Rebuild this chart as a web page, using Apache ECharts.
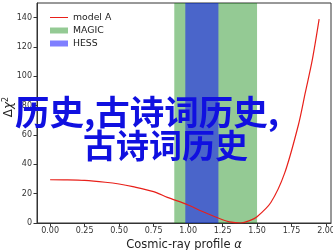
<!DOCTYPE html>
<html><head><meta charset="utf-8">
<script src="https://cdn.jsdelivr.net/npm/echarts@6/dist/echarts.min.js"></script>
<style>html,body{margin:0;padding:0;background:#fff}#c{width:333px;height:250px}</style>
</head><body><div id="c"></div>
<script>
const alphaX = [0, 0.1, 0.25, 0.4, 0.5, 0.6, 0.75, 0.85, 1.0, 1.1, 1.25, 1.3, 1.38, 1.45, 1.5, 1.6, 1.7, 1.8, 1.85, 1.9, 1.95];
const chi2   = [29.5, 29.4, 29.0, 27.8, 26.6, 24.8, 21.4, 17.5, 12.3, 8.0, 2.2, 0.8, 0.0, 1.8, 4.3, 14, 34, 67, 89, 111, 139];
const magicBand = [0.9, 1.5];
const hessBand = [0.98, 1.22];
const xTicks = [0, 0.25, 0.5, 0.75, 1.0, 1.25, 1.5, 1.75, 2.0];
const yTicks = [0, 20, 40, 60, 80, 100, 120, 140];
const overlayLine1 = '历史,古诗词历史,';
const overlayLine2 = '古诗词历史';

const font = 'DejaVu Sans';
const lineIcon = 'path://M0,0L0.01,0L0,0.01Z M0,2.4L18,2.4L18,3.6L0,3.6Z M18,6L17.99,6L18,5.99Z';
const chart = echarts.init(document.getElementById('c'), null, {renderer: 'canvas'});
chart.setOption({
  animation: false,
  grid: {left: 37, right: 2, top: 3, bottom: 27, containLabel: false, outerBoundsMode: 'none',
         show: true, borderColor: '#333', borderWidth: 1, backgroundColor: 'transparent'},
  legend: {
    orient: 'vertical', left: 45, top: 8, itemWidth: 18, itemHeight: 6, itemGap: 4,
    textStyle: {fontFamily: font, fontSize: 9.3, color: '#222'},
    data: [{name: 'model A', icon: lineIcon}, {name: 'MAGIC', icon: 'rect'}, {name: 'HESS', icon: 'rect'}]
  },
  xAxis: {
    type: 'value', min: -0.095, max: 2.036,
    name: 'Cosmic-ray profile {i|α}', nameLocation: 'middle', nameGap: 16, nameMoveOverlap: false,
    nameTextStyle: {fontFamily: font, fontSize: 11.5, color: '#222', rich: {i: {fontFamily: font, fontSize: 11.5, fontStyle: 'italic', color: '#222'}}},
    splitLine: {show: false},
    axisLine: {show: true, onZero: false, lineStyle: {color: '#333'}},
    axisTick: {show: true, length: 3.5, lineStyle: {color: '#333'}, customValues: xTicks},
    axisLabel: {fontFamily: font, fontSize: 8, color: '#333', margin: 4, customValues: xTicks, formatter: v => v.toFixed(2)}
  },
  yAxis: {
    type: 'value', min: 0, max: 150,
    name: 'Δ{i|χ}{s|2}', nameLocation: 'middle', nameGap: 21, nameRotate: 90, nameMoveOverlap: false,
    nameTextStyle: {fontFamily: font, fontSize: 12, color: '#222', padding: [0, 0, 0, 12],
      rich: {i: {fontFamily: font, fontSize: 12, fontStyle: 'italic', color: '#222'},
             s: {fontFamily: font, fontSize: 8, color: '#222', verticalAlign: 'top', padding: [0, 0, 6, 0]}}},
    splitLine: {show: false},
    axisLine: {show: true, onZero: false, lineStyle: {color: '#333'}},
    axisTick: {show: true, length: 3.5, lineStyle: {color: '#333'}, customValues: yTicks},
    axisLabel: {fontFamily: font, fontSize: 8, color: '#333', margin: 5, customValues: yTicks}
  },
  series: [
    {name: 'MAGIC', type: 'line', data: [], itemStyle: {color: 'rgba(0,128,0,0.42)'}, z: 1,
     markArea: {silent: true, itemStyle: {color: 'rgba(0,128,0,0.42)'}, data: [[{xAxis: magicBand[0]}, {xAxis: magicBand[1]}]]}},
    {name: 'HESS', type: 'line', data: [], itemStyle: {color: 'rgba(0,0,255,0.5)'}, z: 2,
     markArea: {silent: true, itemStyle: {color: 'rgba(0,0,255,0.5)'}, data: [[{xAxis: hessBand[0]}, {xAxis: hessBand[1]}]]}},
    {name: 'model A', type: 'line', symbol: 'none', smooth: 0.3, z: 5,
     lineStyle: {color: '#e8201a', width: 1.2}, itemStyle: {color: '#e8201a'},
     data: alphaX.map((x, i) => [x, chi2[i]])}
  ],
  graphic: [
    {type: 'text', left: 15, top: 95, z: 100, style: {text: overlayLine1, fontFamily: 'Noto Sans CJK SC', fontWeight: 'bold', fontSize: 34.5, fill: '#1010e0'}},
    {type: 'text', left: 83, top: 129, z: 100, style: {text: overlayLine2, fontFamily: 'Noto Sans CJK SC', fontWeight: 'bold', fontSize: 33, fill: '#1010e0'}}
  ]
});
</script></body></html>
